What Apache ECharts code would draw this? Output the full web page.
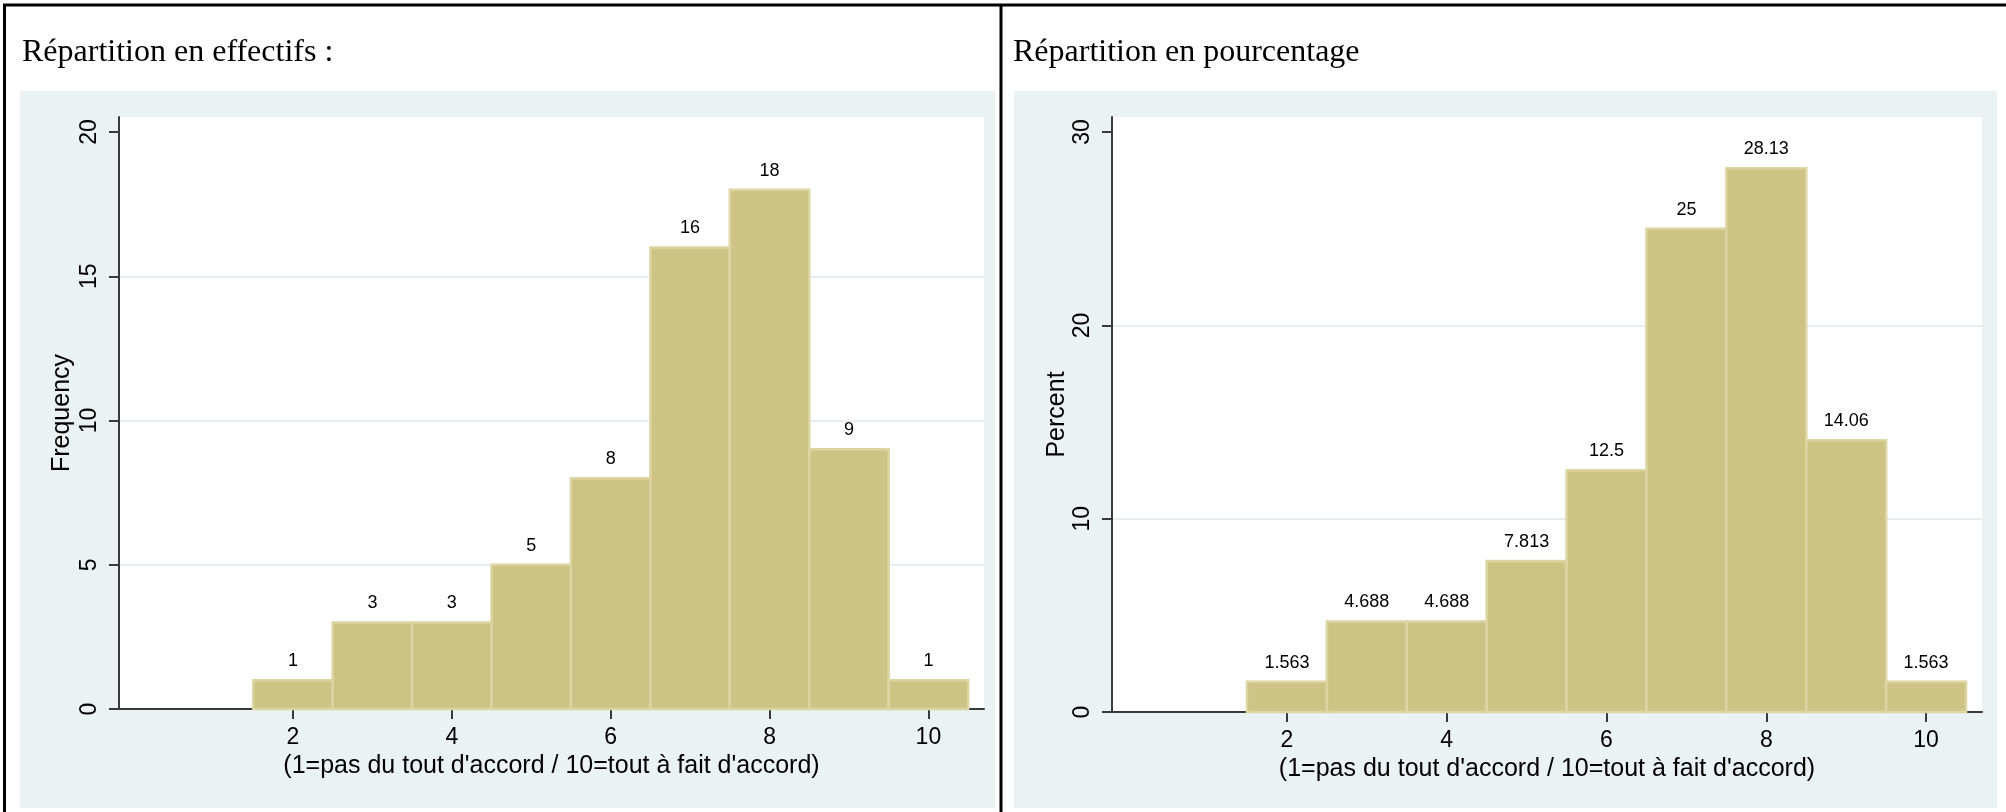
<!DOCTYPE html>
<html>
<head>
<meta charset="utf-8">
<script src="https://cdn.jsdelivr.net/npm/echarts@6/dist/echarts.min.js"></script>
<style>
html,body{margin:0;padding:0;background:#fff;}
#c{width:2006px;height:812px;}
</style>
</head>
<body>
<div id="c"></div>
<script>
// ---- data ----
const bins = [2, 3, 4, 5, 6, 7, 8, 9, 10];
const counts = [1, 3, 3, 5, 8, 16, 18, 9, 1];
const percents = [1.563, 4.688, 4.688, 7.813, 12.5, 25, 28.13, 14.06, 1.563];
const xTicks = [2, 4, 6, 8, 10];
const yTicksCount = [0, 5, 10, 15, 20];
const yTicksPct = [0, 10, 20, 30];
const titleLeft = 'Répartition en effectifs :';
const titleRight = 'Répartition en pourcentage';
const xName = "(1=pas du tout d'accord / 10=tout à fait d'accord)";
const yNameLeft = 'Frequency';
const yNameRight = 'Percent';

// ---- styles ----
const BAR_FILL = '#CCC384';
const BAR_STROKE = '#DCD5A2';
const BG = '#EAF2F3';
const GRIDC = '#E6EEF1';
const AXC = '#3a3a3a';
const SANS = 'Liberation Sans, Arial, sans-serif';
const SERIF = 'Liberation Serif, Times New Roman, serif';

function renderBar(params, api) {
  const x = api.value(0), v = api.value(1);
  const p0 = api.coord([x - 0.5, v]);
  const p1 = api.coord([x + 0.5, 0]);
  return {
    type: 'group',
    children: [
      {
        type: 'rect',
        shape: { x: p0[0], y: p0[1], width: p1[0] - p0[0], height: p1[1] - p0[1] },
        style: { fill: BAR_FILL, stroke: BAR_STROKE, lineWidth: 2.5 }
      },
      {
        type: 'text',
        style: {
          text: String(v), x: (p0[0] + p1[0]) / 2, y: p0[1] - 10,
          align: 'center', verticalAlign: 'bottom',
          font: '18px ' + SANS, fill: '#000'
        }
      }
    ]
  };
}

function xAxisCfg(gi) {
  return {
    gridIndex: gi, type: 'value', min: -0.19, max: 10.7,
    name: xName, nameLocation: 'middle', nameGap: 44,
    nameTextStyle: { fontFamily: SANS, fontSize: 25, color: '#000' },
    axisLine: { show: true, onZero: false, lineStyle: { color: AXC, width: 2 } },
    axisTick: { show: true, length: 10, customValues: xTicks, lineStyle: { color: AXC, width: 2 } },
    axisLabel: { customValues: xTicks, margin: 17, fontFamily: SANS, fontSize: 23, color: '#000' },
    splitLine: { show: false }
  };
}
function yAxisCfg(gi, max, interval, ticks, name, gap) {
  return {
    gridIndex: gi, type: 'value', min: 0, max: max, interval: interval,
    name: name, nameLocation: 'middle', nameGap: gap, nameRotate: 90,
    nameTextStyle: { fontFamily: SANS, fontSize: 25, color: '#000' },
    axisLine: { show: true, onZero: false, lineStyle: { color: AXC, width: 2 } },
    axisTick: { show: true, length: 10, customValues: ticks, lineStyle: { color: AXC, width: 2 } },
    axisLabel: { customValues: ticks, rotate: 90, margin: 18, fontFamily: SANS, fontSize: 23, color: '#000' },
    splitLine: { show: true, showMinLine: false, showMaxLine: false, lineStyle: { color: GRIDC, width: 2 } }
  };
}

const chart = echarts.init(document.getElementById('c'), null, { renderer: 'canvas' });
chart.setOption({
  backgroundColor: '#fff',
  animation: false,
  graphic: [
    { type: 'rect', shape: { x: 20, y: 91, width: 975, height: 717 }, style: { fill: BG }, z: -10 },
    { type: 'rect', shape: { x: 1014, y: 91, width: 983, height: 717 }, style: { fill: BG }, z: -10 },
    { type: 'line', shape: { x1: 3, y1: 5, x2: 2006, y2: 5 }, style: { stroke: '#000', lineWidth: 3 }, z: 10 },
    { type: 'line', shape: { x1: 4.5, y1: 4, x2: 4.5, y2: 812 }, style: { stroke: '#000', lineWidth: 3 }, z: 10 },
    { type: 'line', shape: { x1: 1001, y1: 4, x2: 1001, y2: 812 }, style: { stroke: '#000', lineWidth: 3 }, z: 10 }
  ],
  title: [
    { text: titleLeft, left: 22, top: 37, padding: 0, textStyle: { fontFamily: SERIF, fontSize: 32, fontWeight: 'normal', color: '#000' } },
    { text: titleRight, left: 1013, top: 37, padding: 0, textStyle: { fontFamily: SERIF, fontSize: 32, fontWeight: 'normal', color: '#000' } }
  ],
  grid: [
    { left: 119, right: 1022, top: 117, bottom: 103, show: true, backgroundColor: '#fff', borderWidth: 0 },
    { left: 1112, right: 24, top: 117, bottom: 100, show: true, backgroundColor: '#fff', borderWidth: 0 }
  ],
  xAxis: [xAxisCfg(0), xAxisCfg(1)],
  yAxis: [
    yAxisCfg(0, 20.52, 5, yTicksCount, yNameLeft, 44),
    yAxisCfg(1, 30.78, 10, yTicksPct, yNameRight, 42)
  ],
  series: [
    { type: 'custom', xAxisIndex: 0, yAxisIndex: 0, renderItem: renderBar,
      data: bins.map((b, i) => [b, counts[i]]) },
    { type: 'custom', xAxisIndex: 1, yAxisIndex: 1, renderItem: renderBar,
      data: bins.map((b, i) => [b, percents[i]]) }
  ]
});
</script>
</body>
</html>
